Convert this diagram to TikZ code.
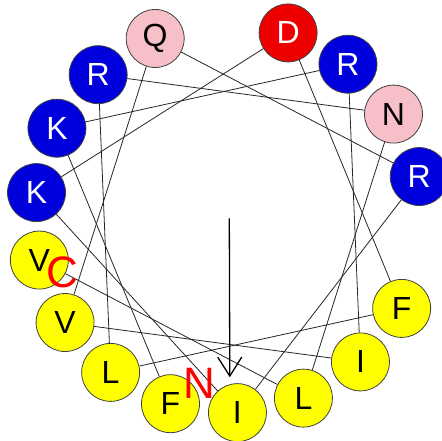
\documentclass[tikz,border=0pt]{standalone}
\usepackage{fontspec}
\setmainfont{Liberation Sans}
\usetikzlibrary{arrows.meta, calc}
\definecolor{wheelblue}{HTML}{0000DD}
\definecolor{wheelred}{HTML}{EE0000}
\definecolor{wheelpink}{HTML}{F7C0C8}
\definecolor{wheelyellow}{HTML}{FFFF00}

\begin{document}
\begin{tikzpicture}[
    x=1pt, y=1pt,
    res/.style={circle, draw=black!75, line width=0.8pt, minimum size=58pt, inner sep=0pt, font=\fontsize{32}{32}\selectfont},
    basic/.style={res, fill=wheelblue, text=white},
    acidic/.style={res, fill=wheelred, text=white},
    polar/.style={res, fill=wheelpink},
    apolar/.style={res, fill=wheelyellow},
    link/.style={draw=black!85, line width=0.8pt},
    moment/.style={-{Straight Barb[length=19pt, width=24pt]}, line width=1.3pt},
    term/.style={text=red, inner sep=0pt, font=\fontsize{44}{44}\selectfont}
]
\useasboundingbox (0,0) rectangle (441,-441);
\coordinate (c) at (229.3,-218.3);
% residues, N to C
\node[apolar] (f1) at ($(c)+(-107.6:194.5)$) {F};
\node[basic] (k2) at ($(c)+(152.4:194.5)$) {K};
\node[basic] (r3) at ($(c)+(52.4:194.5)$) {R};
\node[apolar] (i4) at ($(c)+(-47.6:194.5)$) {I};
\node[apolar] (v5) at ($(c)+(-147.6:194.5)$) {V};
\node[polar] (q6) at ($(c)+(112.4:194.5)$) {Q};
\node[basic] (r7) at ($(c)+(12.4:194.5)$) {R};
\node[apolar] (i8) at ($(c)+(-87.6:194.5)$) {I};
\node[basic] (k9) at ($(c)+(172.4:194.5)$) {K};
\node[acidic] (d10) at ($(c)+(72.4:194.5)$) {D};
\node[apolar] (f11) at ($(c)+(-27.6:194.5)$) {F};
\node[apolar] (l12) at ($(c)+(-127.6:194.5)$) {L};
\node[basic] (r13) at ($(c)+(132.4:194.5)$) {R};
\node[polar] (n14) at ($(c)+(32.4:194.5)$) {N};
\node[apolar] (l15) at ($(c)+(-67.6:194.5)$) {L};
\node[apolar] (v16) at ($(c)+(-167.6:194.5)$) {V};
% backbone
\draw[link] (f1) -- (k2);
\draw[link] (k2) -- (r3);
\draw[link] (r3) -- (i4);
\draw[link] (i4) -- (v5);
\draw[link] (v5) -- (q6);
\draw[link] (q6) -- (r7);
\draw[link] (r7) -- (i8);
\draw[link] (i8) -- (k9);
\draw[link] (k9) -- (d10);
\draw[link] (d10) -- (f11);
\draw[link] (f11) -- (l12);
\draw[link] (l12) -- (r13);
\draw[link] (r13) -- (n14);
\draw[link] (n14) -- (l15);
\draw[link] (l15) -- (v16);
% termini
\node[term] (nterm) at (199,-383) {N};
\node[term] (cterm) at (62,-272) {C};
% hydrophobic moment
\coordinate (tip) at ($(c)+(0.5,-159)$);
\draw[moment] (c) -- (tip);
\end{tikzpicture}
\end{document}
